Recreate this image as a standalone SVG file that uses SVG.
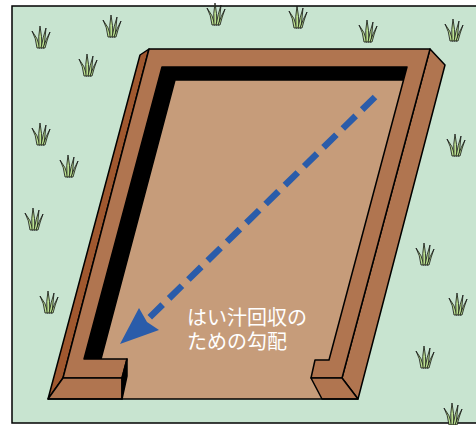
<svg xmlns="http://www.w3.org/2000/svg" width="476" height="425" viewBox="0 0 476 425">
  <style>
    .edge { stroke: #000; stroke-width: 1.5; stroke-linejoin: round; }
    .face { fill: #b07550; }
    .side { fill: #a0582f; }
    .floor { fill: #c69c7a; }
    .wall { fill: #000; }
    .label { font-family: "Noto Sans CJK JP", "Noto Sans", sans-serif; font-size: 20px; fill: #ffffff; }
  </style>
  <defs>
    <!-- a single tuft of grass, origin at the base centre -->
    <g id="tuft" fill="#b9df8f" stroke="#111" stroke-width="0.8" stroke-linejoin="round">
      <path d="M-4,0 Q-5,-10 -9,-17 Q-3,-10 -1,0 Z"/>
      <path d="M-2,0 Q-3,-12 -1,-22 Q1,-12 1,0 Z"/>
      <path d="M0,0 Q2,-11 5,-20 Q4,-10 3,0 Z"/>
      <path d="M2,0 Q5,-9 9,-16 Q6,-8 4,0 Z"/>
    </g>
  </defs>

  <!-- lawn -->
  <rect id="ground" x="12" y="6" width="480" height="417" fill="#c8e4d0" stroke="#000" stroke-width="1.5"/>

  <!-- grass tufts scattered on the lawn -->
  <g id="grass">
    <use href="#tuft" x="41" y="48"/>
    <use href="#tuft" x="112" y="37"/>
    <use href="#tuft" x="88" y="76"/>
    <use href="#tuft" x="216" y="25"/>
    <use href="#tuft" x="298" y="28"/>
    <use href="#tuft" x="368" y="42"/>
    <use href="#tuft" x="454" y="41"/>
    <use href="#tuft" x="41" y="145"/>
    <use href="#tuft" x="69" y="177"/>
    <use href="#tuft" x="34" y="230"/>
    <use href="#tuft" x="49" y="313"/>
    <use href="#tuft" x="456" y="156"/>
    <use href="#tuft" x="425" y="265"/>
    <use href="#tuft" x="458" y="315"/>
    <use href="#tuft" x="425" y="368"/>
    <use href="#tuft" x="453" y="425"/>
  </g>

  <!-- sloped floor inside the frame -->
  <g id="floor">
    <polygon class="floor" points="162,67 407,67 322,399 122,399 122,378 63,378"/>
  </g>

  <!-- wooden frame -->
  <g id="frame">
    <!-- shadowed inner wall along the top and left -->
    <polygon class="wall edge" points="162,67 407,67 403,80 175,80 101,359 84,359"/>
    <!-- outer left face -->
    <polygon class="side edge" points="140,55 149,49 63,378 48,399"/>
    <!-- outer right face -->
    <polygon class="face edge" points="430,49 445,65 358,399 342,378"/>
    <!-- top face of the frame, open at the bottom -->
    <polygon class="face edge" points="149,49 430,49 342,378 311,378 315,360 329,360 407,67 162,67 84,359 127,359 122,378 63,378"/>
    <!-- left foot: front and end faces -->
    <polygon class="face edge" points="63,378 122,378 122,399 48,399"/>
    <polygon class="wall edge" points="127,359 127,376 122,399 122,378"/>
    <!-- right foot: front face -->
    <polygon class="face edge" points="311,378 342,378 358,399 322,399"/>
    <line class="edge" x1="48" y1="399" x2="358" y2="399"/>
  </g>

  <!-- drainage direction -->
  <g id="arrow">
    <line x1="375" y1="97" x2="149" y2="318" stroke="#2a5caa" stroke-width="6.5" stroke-dasharray="18 9"/>
    <polygon points="120,344 139,308 147,322 159,330" fill="#2a5caa"/>
  </g>

  <g id="label">
    <text class="label" x="187" y="325">はい汁回収の</text>
    <text class="label" x="187" y="349">ための勾配</text>
  </g>
</svg>
